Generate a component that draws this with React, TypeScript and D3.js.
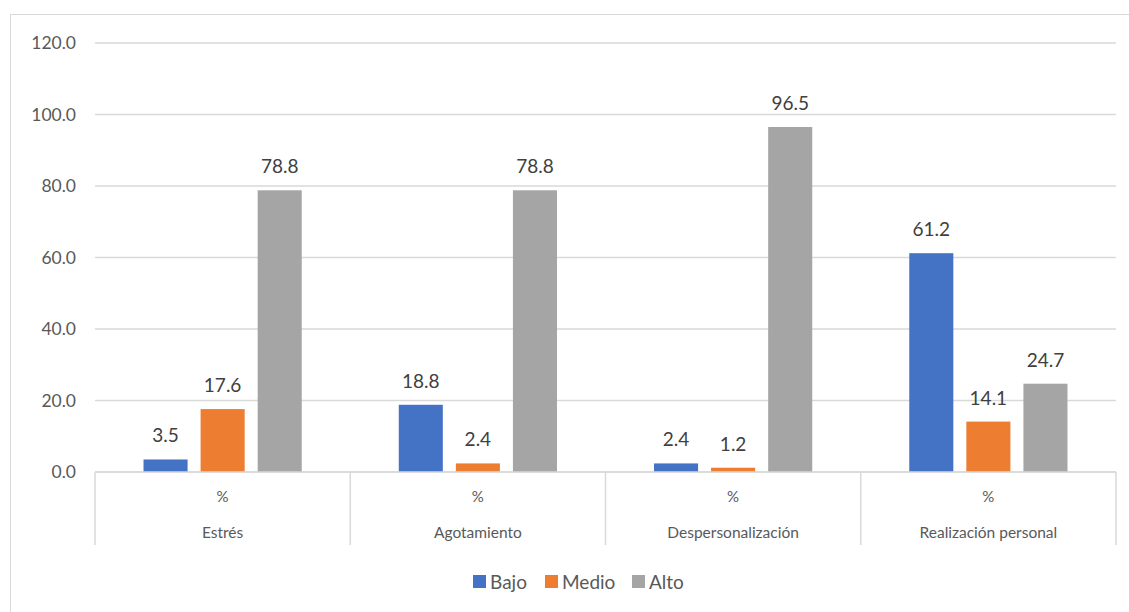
import React from 'react';
import * as d3 from 'd3';

const categories = ['Estrés', 'Agotamiento', 'Despersonalización', 'Realización personal'];
const subLabel = '%';
const seriesNames = ['Bajo', 'Medio', 'Alto'];
const bajo = [3.5, 18.8, 2.4, 61.2];
const medio = [17.6, 2.4, 1.2, 14.1];
const alto = [78.8, 78.8, 96.5, 24.7];
const yTicks = [0, 20, 40, 60, 80, 100, 120];
const colors = ['#4472c4', '#ed7d31', '#a5a5a5'];

const W = 1129;
const H = 612;
const left = 95;
const right = 1116;
const top = 43;
const bottom = 472;
const font = 'Lato, "Open Sans", sans-serif';

export default function App() {
  const values = [bajo, medio, alto];
  const x0 = d3.scaleBand<string>().domain(categories).range([left, right]);
  const x1 = d3
    .scaleBand<string>()
    .domain(seriesNames)
    .range([0, x0.bandwidth()])
    .paddingInner(0.228)
    .paddingOuter(0.85);
  const y = d3.scaleLinear().domain([0, 120]).range([bottom, top]);

  // legend entries, left edge of each swatch
  const legendX = [473, 545, 632];

  return (
    <svg
      width={W}
      height={H}
      viewBox={`0 0 ${W} ${H}`}
      style={{ position: 'absolute', left: 0, top: 0, background: '#fff' }}
      fontFamily={font}
    >
      <rect x={10.5} y={14.5} width={W} height={H} fill="#fff" stroke="#d9d9d9" />
      {yTicks.map(t => (
        <g key={t}>
          <line x1={left} x2={right} y1={y(t)} y2={y(t)} stroke="#d9d9d9" strokeWidth={1.5} />
          <text x={76} y={y(t)} dy="0.35em" textAnchor="end" fontSize={17.5} fill="#595959">
            {t.toFixed(1)}
          </text>
        </g>
      ))}
      {categories.map((c, i) => (
        <g key={c}>
          {seriesNames.map((s, j) => {
            const v = values[j][i];
            const bx = (x0(c) as number) + (x1(s) as number);
            return (
              <g key={s}>
                <rect x={bx} y={y(v)} width={x1.bandwidth()} height={bottom - y(v)} fill={colors[j]} />
                <text
                  x={bx + x1.bandwidth() / 2}
                  y={y(v) - 17}
                  textAnchor="middle"
                  fontSize={19}
                  fill="#404040"
                >
                  {v.toFixed(1)}
                </text>
              </g>
            );
          })}
          <text
            x={(x0(c) as number) + x0.bandwidth() / 2}
            y={502}
            textAnchor="middle"
            fontSize={15}
            fill="#595959"
          >
            {subLabel}
          </text>
          <text
            x={(x0(c) as number) + x0.bandwidth() / 2}
            y={538}
            textAnchor="middle"
            fontSize={15.5}
            fill="#595959"
          >
            {c}
          </text>
        </g>
      ))}
      {[...categories.map(c => x0(c) as number), right].map((xv, i) => (
        <line key={i} x1={xv} x2={xv} y1={bottom} y2={545} stroke="#d9d9d9" strokeWidth={1.5} />
      ))}
      <line x1={left} x2={right} y1={bottom} y2={bottom} stroke="#d9d9d9" strokeWidth={1.5} />
      {seriesNames.map((s, j) => (
        <g key={s}>
          <rect x={legendX[j]} y={575} width={13} height={13} fill={colors[j]} />
          <text x={legendX[j] + 17} y={582} dy="0.35em" fontSize={19} fill="#595959">
            {s}
          </text>
        </g>
      ))}
    </svg>
  );
}
